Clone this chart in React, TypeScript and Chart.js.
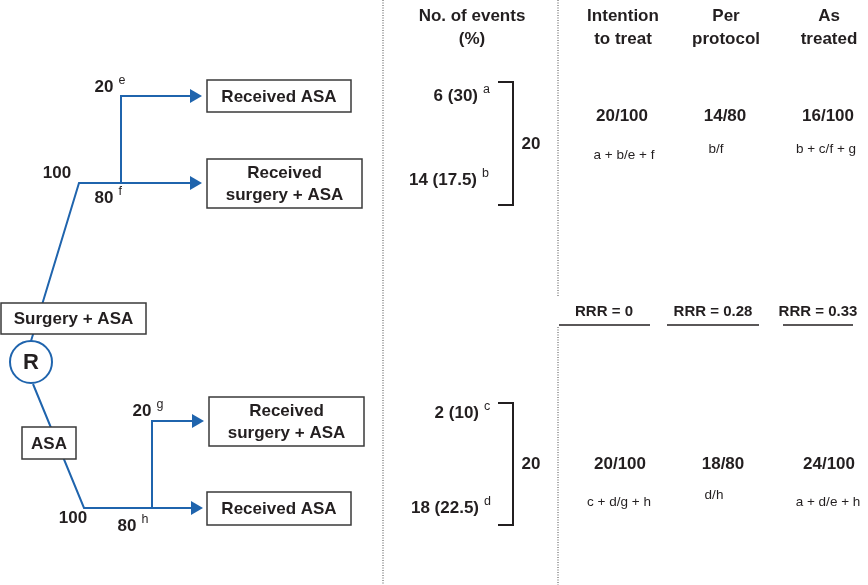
import React, { useEffect, useRef } from "react";
import { Chart, registerables } from "chart.js";

Chart.register(...registerables);

// ---------- values ----------
const armLabels = ["Surgery + ASA", "ASA"];
const randomisedCounts = [100, 100];
const receivedLabels = [["Received ASA"], ["Received", "surgery + ASA"], ["Received", "surgery + ASA"], ["Received ASA"]];
const receivedCounts = [20, 80, 20, 80];
const receivedKeys = ["e", "f", "g", "h"];
const eventLabels = ["6 (30)", "14 (17.5)", "2 (10)", "18 (22.5)"];
const eventKeys = ["a", "b", "c", "d"];
const armEventTotals = [20, 20];
const eventsHeader = ["No. of events", "(%)"];
const analysisHeaders = [["Intention", "to treat"], ["Per", "protocol"], ["As", "treated"]];
const surgeryResults = ["20/100", "14/80", "16/100"];
const surgeryFormulas = ["a + b/e + f", "b/f", "b + c/f + g"];
const asaResults = ["20/100", "18/80", "24/100"];
const asaFormulas = ["c + d/g + h", "d/h", "a + d/e + h"];
const rrrValues = ["0", "0.28", "0.33"];
const randomLabel = "R";

// ---------- layout (diagram coordinates) ----------
const W = 868;
const H = 585;
const BLUE = "#1f64ad";
const INK = "#231f20";
const FONT = '"Liberation Sans", Arial, Helvetica, sans-serif';

const treePaths = [
  [[31, 341], [79, 183], [195, 183]],
  [[121, 183], [121, 96], [195, 96]],
  [[33, 384], [84, 508], [196, 508]],
  [[152, 508], [152, 421], [197, 421]],
];
const arrowTips = [[202, 96], [202, 183], [204, 421], [203, 508]];
const circlePos = [31, 362];
const armBoxes = [[1, 303, 146, 334], [22, 427, 76, 459]];
const receivedBoxes = [[207, 80, 351, 112], [207, 159, 362, 208], [209, 397, 364, 446], [207, 492, 351, 525]];
const randomisedPos = [[57, 173], [73, 518]];
const receivedCountPos = [[104, 87], [104, 198], [142, 411], [127, 526]];
const eventPos = [[478, 96], [477, 180], [479, 413], [479, 508]];
const brackets = [[82, 205], [403, 525]];
const bracketX = [498, 513];
const armEventPos = [[531, 144], [531, 464]];
const columnX = [623, 726, 829];
const resultY = [116, 464];
const formulaPos = [
  [[624, 155], [716, 149], [826, 149]],
  [[619, 502], [714, 495], [828, 502]],
];
const rrrTextX = [604, 713, 818];
const rrrY = 312;
const rrrLines = [[559, 650], [667, 759], [783, 853]];
const rrrLineY = 325;
const dottedLines = [
  [[383, 0], [383, 585]],
  [[558, 0], [558, 297]],
  [[558, 327], [558, 585]],
];

const toPts = (arr: number[][]) => arr.map(([x, y]) => ({ x, y }));

const annotationPlugin = {
  id: "diagramText",
  afterDatasetsDraw(chart: any) {
    const { ctx, scales } = chart;
    const X = (v: number) => scales.x.getPixelForValue(v);
    const Y = (v: number) => scales.y.getPixelForValue(v);
    ctx.save();

    const box = (b: number[]) => {
      const x0 = X(b[0]), y0 = Y(b[1]), x1 = X(b[2]), y1 = Y(b[3]);
      ctx.fillStyle = "#ffffff";
      ctx.fillRect(x0, y0, x1 - x0, y1 - y0);
      ctx.strokeStyle = "#3a3a3a";
      ctx.lineWidth = 1.5;
      ctx.strokeRect(x0, y0, x1 - x0, y1 - y0);
    };
    const text = (s: string, x: number, y: number, font: string, align: CanvasTextAlign = "center") => {
      ctx.font = font;
      ctx.fillStyle = INK;
      ctx.textAlign = align;
      ctx.textBaseline = "middle";
      ctx.fillText(s, X(x), Y(y));
    };
    const bold = (n: number) => `bold ${n}px ${FONT}`;
    const reg = (n: number) => `${n}px ${FONT}`;
    const sup = (s: string, x: number, y: number) => text(s, x, y, reg(12.5), "left");
    const withSup = (s: string, key: string, x: number, y: number, align: CanvasTextAlign) => {
      ctx.font = bold(17);
      const w = ctx.measureText(s).width;
      text(s, x, y, bold(17), align);
      const right = align === "right" ? x : align === "center" ? x + w / 2 : x + w;
      sup(key, right + 5, y - 6.5);
    };

    // boxes
    armBoxes.forEach((b, i) => {
      box(b);
      text(armLabels[i], (b[0] + b[2]) / 2, (b[1] + b[3]) / 2 + 1, bold(17));
    });
    receivedBoxes.forEach((b, i) => {
      box(b);
      const lines = receivedLabels[i];
      const cx = (b[0] + b[2]) / 2;
      const cy = (b[1] + b[3]) / 2 + 1;
      if (lines.length === 1) text(lines[0], cx, cy, bold(17));
      else {
        text(lines[0], cx, cy - 11, bold(17));
        text(lines[1], cx, cy + 11, bold(17));
      }
    });

    // R in circle
    text(randomLabel, circlePos[0], circlePos[1] + 1, bold(22));

    // counts
    randomisedPos.forEach((p, i) => text(String(randomisedCounts[i]), p[0], p[1], bold(17)));
    receivedCountPos.forEach((p, i) => withSup(String(receivedCounts[i]), receivedKeys[i], p[0], p[1], "center"));

    // events column
    text(eventsHeader[0], 472, 16, bold(17));
    text(eventsHeader[1], 472, 39, bold(17));
    eventPos.forEach((p, i) => withSup(eventLabels[i], eventKeys[i], p[0], p[1], "right"));
    armEventPos.forEach((p, i) => text(String(armEventTotals[i]), p[0], p[1], bold(17)));

    // analysis columns
    analysisHeaders.forEach((h, i) => {
      text(h[0], columnX[i], 16, bold(17));
      text(h[1], columnX[i], 39, bold(17));
    });
    surgeryResults.forEach((r, i) => text(r, columnX[i] - 1, resultY[0], bold(17)));
    asaResults.forEach((r, i) => text(r, columnX[i] - 3 + (i === 2 ? 3 : 0), resultY[1], bold(17)));
    surgeryFormulas.forEach((f, i) => text(f, formulaPos[0][i][0], formulaPos[0][i][1], reg(13.5)));
    asaFormulas.forEach((f, i) => text(f, formulaPos[1][i][0], formulaPos[1][i][1], reg(13.5)));
    rrrValues.forEach((v, i) => text(`RRR = ${v}`, rrrTextX[i], rrrY, bold(15)));

    ctx.restore();
  },
};

export default function App() {
  const ref = useRef<HTMLCanvasElement | null>(null);

  useEffect(() => {
    if (!ref.current) return;
    const lineDs = (pts: number[][], color: string, width: number, dash: number[] = []) => ({
      data: toPts(pts),
      showLine: true,
      borderColor: color,
      borderWidth: width,
      borderDash: dash,
      pointRadius: 0,
      fill: false,
      tension: 0,
      clip: false as any,
      borderCapStyle: "butt" as const,
      borderJoinStyle: "miter" as const,
    });

    const datasets: any[] = [];
    dottedLines.forEach((l) => datasets.push(lineDs(l, "#4a4a4a", 1, [1, 1.5])));
    treePaths.forEach((p) => datasets.push(lineDs(p, BLUE, 2)));
    brackets.forEach(([y0, y1]) =>
      datasets.push(lineDs([[bracketX[0], y0], [bracketX[1], y0], [bracketX[1], y1], [bracketX[0], y1]], INK, 2))
    );
    rrrLines.forEach(([x0, x1]) => datasets.push(lineDs([[x0, rrrLineY], [x1, rrrLineY]], INK, 1.6)));
    datasets.push({
      data: toPts(arrowTips.map(([x, y]) => [x - 8, y])),
      pointStyle: "triangle",
      rotation: 90,
      pointRadius: 8,
      backgroundColor: BLUE,
      borderColor: BLUE,
      borderWidth: 0,
      showLine: false,
      clip: false,
    });
    datasets.push({
      data: toPts([circlePos]),
      pointStyle: "circle",
      pointRadius: 21,
      backgroundColor: "#ffffff",
      borderColor: BLUE,
      borderWidth: 2,
      showLine: false,
      clip: false,
    });

    const chart = new Chart(ref.current, {
      type: "scatter",
      data: { datasets },
      options: {
        animation: false,
        responsive: true,
        maintainAspectRatio: false,
        layout: { padding: 0, autoPadding: false },
        events: [],
        plugins: { legend: { display: false }, tooltip: { enabled: false } },
        scales: {
          x: { type: "linear", min: 0, max: W, display: false, offset: false },
          y: { type: "linear", min: 0, max: H, reverse: true, display: false, offset: false },
        },
      },
      plugins: [annotationPlugin],
    });
    return () => chart.destroy();
  }, []);

  return (
    <div style={{ position: "fixed", left: 0, top: 0, width: W, height: H, background: "#fff" }}>
      <canvas ref={ref} />
    </div>
  );
}
